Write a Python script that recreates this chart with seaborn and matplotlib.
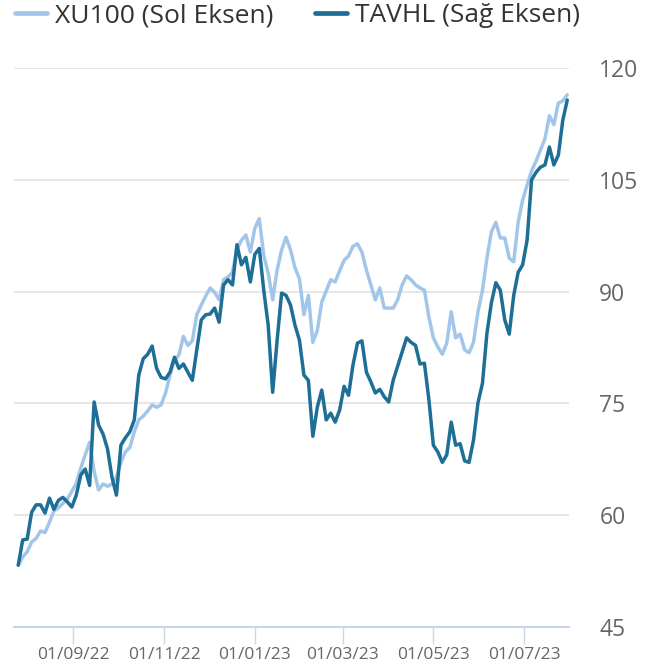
import pandas as pd
import matplotlib.pyplot as plt
import matplotlib.dates as mdates
from matplotlib.lines import Line2D
import seaborn as sns

# values, one every 3 days starting 26/07/22
start_date = "2022-07-26"
xu100 = [
    53.3, 54.4, 55.1, 56.4, 56.9, 57.9, 57.7, 59.1, 60.6, 61.0,
    61.6, 62.2, 63.2, 64.3, 66.3, 68.1, 69.8, 65.9, 63.4, 64.2,
    63.9, 64.2, 65.1, 67.1, 68.5, 69.1, 71.2, 72.8, 73.3, 74.0,
    74.8, 74.5, 74.8, 76.4, 78.8, 80.8, 81.5, 84.0, 82.8, 83.4,
    86.9, 88.2, 89.4, 90.5, 89.9, 88.9, 91.6, 92.0, 92.6, 95.7,
    96.9, 97.6, 95.3, 98.5, 99.8, 94.9, 92.5, 88.9, 92.9, 95.6,
    97.3, 95.6, 93.2, 91.7, 86.9, 89.5, 83.2, 84.8, 88.6, 90.1,
    91.6, 91.3, 92.8, 94.2, 94.8, 96.1, 96.4, 95.3, 92.9, 90.9,
    88.9, 90.5, 87.8, 87.8, 87.8, 88.9, 90.9, 92.1, 91.6, 90.9,
    90.5, 90.2, 86.6, 83.8, 82.6, 81.6, 83.1, 87.3, 83.8, 84.3,
    82.2, 81.8, 83.2, 87.3, 90.2, 94.5, 98.0, 99.3, 97.2, 97.2,
    94.5, 94.0, 99.3, 102.3, 104.3, 106.2, 107.5, 109.0, 110.5, 113.6,
    112.4, 115.3, 115.6, 116.4,
]
tavhl = [
    53.3, 56.7, 56.8, 60.4, 61.4, 61.4, 60.3, 62.3, 60.8, 62.0,
    62.4, 61.8, 61.1, 62.7, 65.4, 66.2, 64.0, 75.2, 72.1, 70.9,
    68.9, 65.1, 62.7, 69.4, 70.4, 71.2, 72.8, 78.8, 81.0, 81.6,
    82.7, 79.7, 78.5, 78.3, 79.2, 81.2, 79.7, 80.3, 79.2, 78.1,
    82.2, 86.2, 86.9, 87.0, 87.8, 85.9, 90.9, 91.6, 90.9, 96.3,
    93.6, 94.6, 91.3, 95.0, 95.8, 90.2, 85.5, 76.5, 83.5, 89.8,
    89.5, 88.2, 85.5, 83.5, 78.8, 78.1, 70.6, 74.5, 76.8, 72.8,
    73.7, 72.5, 74.1, 77.3, 76.1, 80.2, 83.1, 83.4, 79.2, 77.9,
    76.4, 76.9, 75.9, 75.2, 78.1, 80.0, 81.9, 83.8, 83.2, 82.8,
    80.3, 80.4, 75.5, 69.4, 68.5, 67.1, 68.1, 72.5, 69.4, 69.6,
    67.3, 67.1, 70.1, 75.1, 77.7, 84.4, 88.5, 91.2, 90.2, 86.2,
    84.3, 89.5, 92.6, 93.6, 96.9, 105.0, 106.0, 106.7, 107.0, 109.4,
    107.0, 108.3, 113.0, 115.7,
]
series_names = ["XU100 (Sol Eksen)", "TAVHL (Sağ Eksen)"]
colors = ["#a2c6e9", "#1d6f96"]
y_ticks = [45, 60, 75, 90, 105, 120]
x_ticks = ["2022-09-01", "2022-11-01", "2023-01-01", "2023-03-01", "2023-05-01", "2023-07-01"]

dates = pd.date_range(start_date, periods=len(xu100), freq="3D")
df = pd.DataFrame({"date": dates, series_names[0]: xu100, series_names[1]: tavhl})
long_df = df.melt(id_vars="date", var_name="series", value_name="value")

sns.set_style("white")
plt.rcParams["font.family"] = ["Open Sans", "DejaVu Sans"]

fig = plt.figure(figsize=(6.56, 6.70), dpi=100)
ax = fig.add_axes([0.021, 0.064, 0.846, 0.8345])

sns.lineplot(data=long_df, x="date", y="value", hue="series", hue_order=series_names,
             palette=colors, linewidth=2.5, legend=False, ax=ax)

ax.set_ylim(45, 120)
ax.set_yticks(y_ticks)
ax.set_xlim(pd.Timestamp("2022-07-23"), pd.Timestamp("2023-07-31"))
ax.set_xticks(pd.to_datetime(x_ticks))
ax.xaxis.set_major_formatter(mdates.DateFormatter("%d/%m/%y"))
ax.set_xlabel("")
ax.set_ylabel("")

ax.yaxis.tick_right()
ax.grid(axis="y", color="#e6e6e6", linewidth=1.4)
ax.grid(axis="x", visible=False)
for side in ["top", "left", "right"]:
    ax.spines[side].set_visible(False)
ax.spines["bottom"].set_color("#ccd6eb")
ax.spines["bottom"].set_linewidth(1.5)
ax.tick_params(axis="y", length=0, pad=22, labelsize=16.5, labelcolor="#666666")
ax.tick_params(axis="x", length=12, width=1, color="#ccd6eb", pad=2,
               labelsize=12.5, labelcolor="#666666", direction="out", bottom=True)

handles = [Line2D([], [], color=c, linewidth=3.4) for c in colors]
fig.legend(handles, series_names, loc="upper left", bbox_to_anchor=(0.015, 1.003),
           ncol=2, frameon=False, fontsize=19, handlelength=1.2, handletextpad=0.3,
           columnspacing=1.6, borderpad=0.1, borderaxespad=0.1, labelcolor="#333333")

fig.savefig("out.png", dpi=100)
